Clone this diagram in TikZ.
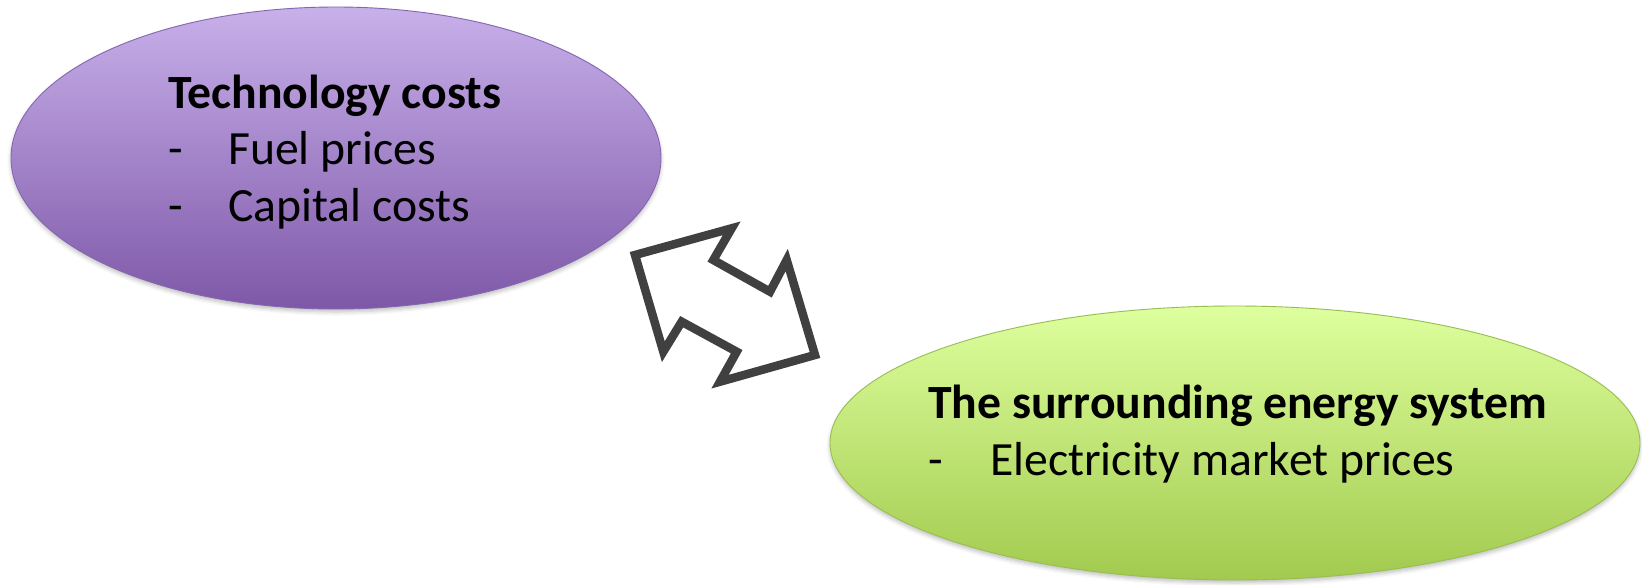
\documentclass[tikz,border=0pt]{standalone}
\usepackage{fontspec}
\setmainfont{Carlito}
\usetikzlibrary{shapes.geometric,shadows.blur}
\definecolor{purTop}{HTML}{C8B0EA}
\definecolor{purBot}{HTML}{7E58A8}
\definecolor{purLine}{HTML}{8466B0}
\definecolor{grnTop}{HTML}{DEFF9E}
\definecolor{grnBot}{HTML}{A2CA4E}
\definecolor{grnLine}{HTML}{98BE52}
\definecolor{arrGray}{HTML}{404040}
\tikzset{
  bubble/.style={ellipse, inner sep=0pt, line width=0.9pt,
    blur shadow={shadow xshift=0pt, shadow yshift=-3pt, shadow blur radius=4pt, shadow opacity=25}},
  head/.style={anchor=base west, inner sep=0pt, font=\fontsize{47.7}{57}\selectfont\bfseries},
  item/.style={anchor=base west, inner sep=0pt, font=\fontsize{47.7}{57}\selectfont},
  blockarrow/.style={draw=arrGray, line width=8.5pt, line join=miter, fill=none}
}
\begin{document}
\begin{tikzpicture}[x=1pt,y=-1pt]
\useasboundingbox (0,0) rectangle (1642,584);
% purple ellipse
\node[bubble, draw=purLine, top color=purTop, bottom color=purBot,
  minimum width=650pt, minimum height=302pt] (tech) at (336,158) {};
% green ellipse
\node[bubble, draw=grnLine, top color=grnTop, bottom color=grnBot,
  minimum width=810pt, minimum height=274pt] (energy) at (1235,443) {};
% texts purple
\node[head] (t1) at (168,108) {Technology costs};
\node[item] (t2) at (168,164) {-};
\node[item] (t3) at (228,164) {Fuel prices};
\node[item] (t4) at (168,221) {-};
\node[item] (t5) at (228,221) {Capital costs};
% texts green
\node[head] (g1) at (928,418) {The surrounding energy system};
\node[item] (g2) at (928,475) {-};
\node[item] (g3) at (990,475) {Electricity market prices};
% double block arrow
\draw[blockarrow]
  (635,255) -- (731.7,228.3) -- (713.3,260) -- (770,291.7) -- (786.7,260)
  -- (815,355) -- (720,381.7) -- (736.7,351.7) -- (681.7,321.7) -- (663.3,351.7) -- cycle;
\end{tikzpicture}
\end{document}
